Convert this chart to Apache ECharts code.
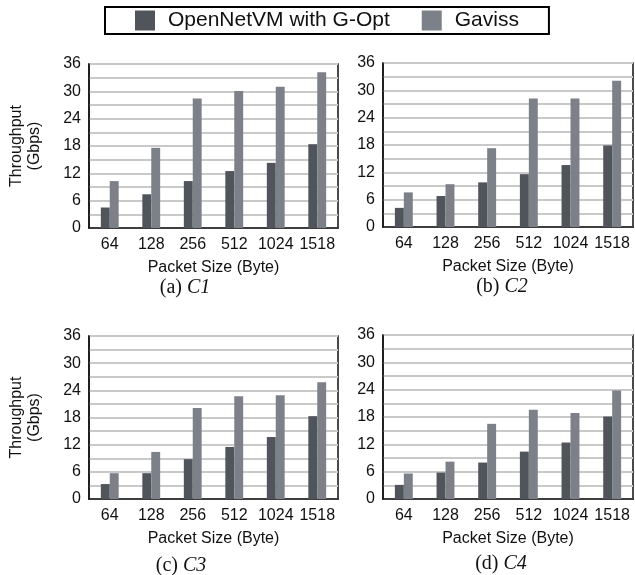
<!DOCTYPE html>
<html><head><meta charset="utf-8">
<script src="https://cdn.jsdelivr.net/npm/echarts@6/dist/echarts.min.js"></script>
<style>html,body{margin:0;padding:0;background:#fff}#c{width:635px;height:575px}</style>
</head><body><div id="c"></div>
<script>
const categories = ['64','128','256','512','1024','1518'];
const seriesNames = ['OpenNetVM with G-Opt','Gaviss'];
const yTicks = [0,6,12,18,24,30,36];
const c1Opt = [4.5, 7.4, 10.3, 12.5, 14.3, 18.4];
const c1Gav = [10.3, 17.6, 28.4, 30.1, 31.0, 34.2];
const c2Opt = [4.2, 6.8, 9.8, 11.6, 13.6, 17.9];
const c2Gav = [7.6, 9.4, 17.3, 28.2, 28.2, 32.1];
const c3Opt = [3.3, 5.7, 8.8, 11.5, 13.7, 18.3];
const c3Gav = [5.7, 10.4, 20.1, 22.7, 22.9, 25.8];
const c4Opt = [3.1, 5.8, 8.0, 10.4, 12.4, 18.1];
const c4Gav = [5.6, 8.2, 16.5, 19.6, 18.9, 23.8];
const captions = [['(a) ','C1'],['(b) ','C2'],['(c) ','C3'],['(d) ','C4']];

const panels = [[c1Opt,c1Gav],[c2Opt,c2Gav],[c3Opt,c3Gav],[c4Opt,c4Gav]];
const DARK = '#50545b', LIGHT = '#7c8189', GRIDC = '#c9c9c9';
const grids = [
  {left:89, top:64, width:249, height:164},
  {left:383, top:63, width:250, height:164},
  {left:89, top:336, width:249, height:163},
  {left:383, top:335, width:250, height:164}
];
const capPos = [[185,288],[502,287],[181,566],[501,564]];
const font = 'Liberation Sans, Arial, sans-serif';
const serif = 'Liberation Serif, serif';
const option = {
  animation:false,
  textStyle:{fontFamily:font},
  legend:{
    data:seriesNames, top:7, left:105, orient:'horizontal',
    itemWidth:20, itemHeight:20, itemGap:32,
    padding:[3,30,3,30], borderColor:'#000', borderWidth:2,
    textStyle:{fontSize:21, color:'#111', fontFamily:font, padding:[0,0,0,8]},
    icon:'rect'
  },
  grid: grids.map(g=>Object.assign({show:true, borderColor:'#111', borderWidth:1.5, backgroundColor:'transparent'}, g)),
  xAxis: grids.map((g,i)=>({
    type:'category', gridIndex:i, data:categories,
    name:'Packet Size (Byte)', nameLocation:'middle', nameGap:32,
    nameTextStyle:{fontSize:16, color:'#111', fontFamily:font},
    axisLine:{lineStyle:{color:'#111', width:1.5}},
    axisTick:{show:false},
    axisLabel:{fontSize:16, color:'#111', margin:9, fontFamily:font, interval:0, hideOverlap:false}
  })),
  yAxis: grids.map((g,i)=>({
    type:'value', gridIndex:i, min:0, max:36, interval:6,
    name: (i%2===0) ? 'Throughput\n(Gbps)' : '',
    nameLocation:'middle', nameGap:45, nameRotate:90,
    nameTextStyle:{fontSize:16, color:'#111', lineHeight:18, fontFamily:font},
    axisLine:{show:true, lineStyle:{color:'#111', width:1.5}},
    axisTick:{show:false},
    axisLabel:{fontSize:16, color:'#111', margin:8, fontFamily:font,
      customValues: yTicks},
    splitLine:{show:true, lineStyle:{color:GRIDC, width:2}},
    minorTick:{show:false, splitNumber:2},
    minorSplitLine:{show:true, lineStyle:{color:GRIDC, width:2}}
  })),
  graphic: capPos.map((p,i)=>({
    type:'text', x:p[0], y:p[1],
    style:{
      text:'{n|'+captions[i][0]+'}{i|'+captions[i][1]+'}',
      align:'center', verticalAlign:'middle',
      rich:{
        n:{fontFamily:serif, fontSize:20, fill:'#111', color:'#111', fontWeight:'normal'},
        i:{fontFamily:serif, fontSize:20, fontStyle:'italic', fill:'#111', color:'#111', fontWeight:'normal'}
      }
    }
  })),
  series: []
};
panels.forEach((p,i)=>{
  option.series.push({name:seriesNames[0], type:'bar', xAxisIndex:i, yAxisIndex:i, data:p[0],
    itemStyle:{color:DARK}, barWidth:'21.5%', barGap:'0%'});
  option.series.push({name:seriesNames[1], type:'bar', xAxisIndex:i, yAxisIndex:i, data:p[1],
    itemStyle:{color:LIGHT}, barWidth:'21.5%', barGap:'0%'});
});
const chart = echarts.init(document.getElementById('c'), null, {renderer:'canvas'});
chart.setOption(option);
</script></body></html>
